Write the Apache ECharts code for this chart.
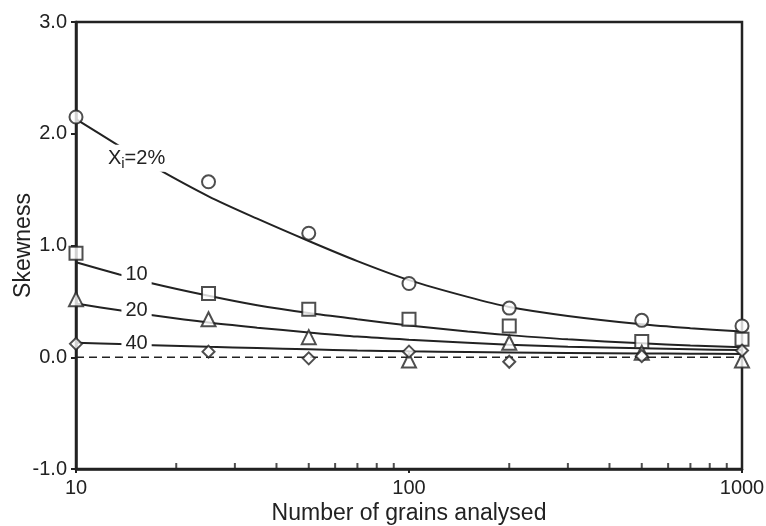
<!DOCTYPE html>
<html>
<head>
<meta charset="utf-8">
<script src="https://cdn.jsdelivr.net/npm/echarts@6/dist/echarts.min.js"></script>
<style>
  html, body { margin: 0; padding: 0; background: #fff; }
  #chart { width: 766px; height: 526px; }
</style>
</head>
<body>
<div id="chart"></div>
<script>
// measured points (skewness vs number of grains)
var grains = [10, 25, 50, 100, 200, 500, 1000];
var circles = [2.15, 1.57, 1.11, 0.66, 0.44, 0.33, 0.28];     // Xi = 2%
var squares = [0.93, 0.57, 0.43, 0.34, 0.28, 0.14, 0.16];     // Xi = 10
var triangles = [0.52, 0.34, 0.18, -0.03, 0.13, 0.04, -0.03]; // Xi = 20
var diamonds = [0.12, 0.05, -0.01, 0.05, -0.04, 0.01, 0.06];  // Xi = 40

// fitted curves
var curveX = [10, 13.5, 17, 25, 35, 50, 70, 100, 150, 200, 300, 500, 700, 1000];
var curve2 = [2.13, 1.89, 1.71, 1.44, 1.24, 1.04, 0.86, 0.69, 0.54, 0.45, 0.37, 0.295, 0.26, 0.23];
var curve10 = [0.85, 0.74, 0.66, 0.55, 0.465, 0.395, 0.34, 0.285, 0.23, 0.198, 0.16, 0.125, 0.105, 0.09];
var curve20 = [0.48, 0.42, 0.375, 0.31, 0.265, 0.222, 0.185, 0.157, 0.13, 0.112, 0.095, 0.08, 0.071, 0.064];
var curve40 = [0.13, 0.118, 0.108, 0.093, 0.082, 0.071, 0.061, 0.053, 0.046, 0.042, 0.038, 0.034, 0.032, 0.03];

// curve labels: [x, y]
var labelPos = {
    '2': [15.2, 1.78],
    '10': [15.2, 0.74],
    '20': [15.2, 0.42],
    '40': [15.2, 0.12]
};

var minorTicks = [20, 30, 40, 50, 60, 70, 80, 90, 200, 300, 400, 500, 600, 700, 800, 900];

var ink = '#222';
var font = 'Liberation Sans, Arial, sans-serif';

function pair(xs, ys) {
    var out = [];
    for (var i = 0; i < xs.length; i++) {
        out.push([xs[i], ys[i]]);
    }
    return out;
}

function curveSeries(ys, key, formatter, rich) {
    return {
        type: 'line',
        smooth: 0.3,
        showSymbol: false,
        data: pair(curveX, ys),
        lineStyle: { color: ink, width: 2 },
        z: 2,
        markPoint: {
            symbol: 'rect',
            symbolSize: 0,
            silent: true,
            label: {
                show: true,
                position: 'inside',
                formatter: formatter,
                color: ink,
                fontFamily: font,
                fontSize: 20,
                backgroundColor: '#fff',
                padding: [0, 4],
                rich: rich
            },
            data: [{ coord: labelPos[key] }]
        }
    };
}

function markSeries(ys, symbol, size) {
    return {
        type: 'scatter',
        data: pair(grains, ys),
        symbol: symbol,
        symbolSize: size,
        itemStyle: { color: '#fff', borderColor: ink, borderWidth: 2 },
        z: 4
    };
}

var chart = echarts.init(document.getElementById('chart'));

chart.setOption({
    animation: false,
    backgroundColor: '#fff',
    grid: {
        left: 76,
        right: 24,
        top: 22,
        bottom: 57,
        containLabel: false,
        outerBoundsMode: 'none',
        show: true,
        borderColor: ink,
        borderWidth: 2.5
    },
    xAxis: {
        type: 'log',
        logBase: 10,
        min: 10,
        max: 1000,
        name: 'Number of grains analysed',
        nameLocation: 'middle',
        nameGap: 33,
        nameMoveOverlap: false,
        nameTextStyle: { color: ink, fontFamily: font, fontSize: 23 },
        axisLine: { onZero: false, lineStyle: { color: ink, width: 2.5 } },
        axisTick: { show: true, length: 4, lineStyle: { color: ink, width: 2 } },
        axisLabel: {
            color: ink, fontFamily: font, fontSize: 20, margin: 9,
            formatter: function (v) { return String(Math.round(v)); }
        },
        splitLine: { show: false }
    },
    yAxis: {
        type: 'value',
        min: -1,
        max: 3,
        interval: 1,
        name: 'Skewness',
        nameLocation: 'middle',
        nameGap: 41,
        nameMoveOverlap: false,
        nameTextStyle: { color: ink, fontFamily: font, fontSize: 23 },
        axisLine: { show: true, onZero: false, lineStyle: { color: ink, width: 2.5 } },
        axisTick: { show: true, length: 5, lineStyle: { color: ink, width: 2 } },
        axisLabel: {
            color: ink, fontFamily: font, fontSize: 20, margin: 9,
            formatter: function (v) { return v.toFixed(1); }
        },
        splitLine: { show: false }
    },
    series: [
        // zero reference line
        {
            type: 'line',
            data: [[10, 0], [1000, 0]],
            showSymbol: false,
            lineStyle: { color: ink, width: 1.5, type: [8, 5] },
            z: 1
        },
        curveSeries(curve2, '2', '{a|X}{b|i}{a|=2%}', {
            a: { fontSize: 20, color: ink, fontFamily: font },
            b: { fontSize: 15, color: ink, fontFamily: font, padding: [12, 0, 0, 0] }
        }),
        curveSeries(curve10, '10', '10'),
        curveSeries(curve20, '20', '20'),
        curveSeries(curve40, '40', '40'),
        markSeries(circles, 'circle', 13),
        markSeries(squares, 'rect', 13),
        markSeries(triangles, 'triangle', 14),
        markSeries(diamonds, 'diamond', 12),
        // log minor ticks along the bottom axis
        {
            type: 'scatter',
            data: minorTicks.map(function (v) { return [v, -1]; }),
            symbol: 'rect',
            symbolSize: [2, 6],
            symbolOffset: [0, -3],
            itemStyle: { color: ink },
            silent: true,
            z: 5
        }
    ]
});

window.onresize = function () {
    chart.resize();
};
</script>
</body>
</html>
